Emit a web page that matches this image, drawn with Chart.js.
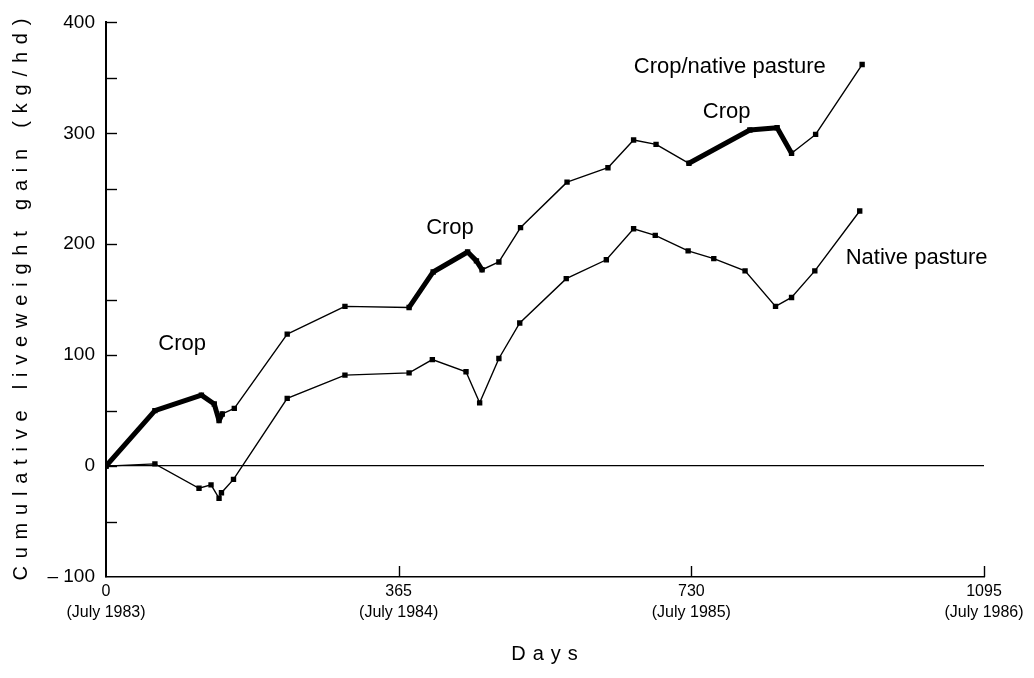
<!DOCTYPE html>
<html>
<head>
<meta charset="utf-8">
<script src="https://cdn.jsdelivr.net/npm/chart.js@4.4.1/dist/chart.umd.min.js"></script>
<style>
html,body{margin:0;padding:0;background:#fff;}
canvas{display:block;}
</style>
</head>
<body>
<canvas id="c" width="1034" height="678"></canvas>
<script>
// ---- data ----
const cropNativeDays = [0, 61, 119, 135, 141, 145, 160, 226, 298, 378, 408, 451, 462, 469, 490, 517, 575, 626, 658, 686, 727, 803, 837, 855, 885, 943];
const cropNativeGain = [0, 50, 64, 56, 41, 47, 52, 119, 144, 143, 175, 193, 185, 177, 184, 215, 256, 269, 294, 290, 273, 303, 305, 282, 299, 362];
// feed grazed on the interval starting at each point
const cropNativeFeed = ['crop','crop','crop','crop','crop','pasture','pasture','pasture','pasture','crop','crop','crop','crop','pasture','pasture','pasture','pasture','pasture','pasture','pasture','crop','crop','crop','pasture','pasture','pasture'];

const nativeDays = [0, 61, 116, 131, 141, 144, 159, 226, 298, 378, 407, 449, 466, 490, 516, 574, 624, 658, 685, 726, 758, 797, 835, 855, 884, 940];
const nativeGain = [0, 2, -20, -17, -29, -24, -12, 61, 82, 84, 96, 85, 57, 97, 129, 169, 186, 214, 208, 194, 187, 176, 144, 152, 176, 230];

const xTickValues = [0, 365, 730, 1095];
const xTickLabels = [['0','(July 1983)'], ['365','(July 1984)'], ['730','(July 1985)'], ['1095','(July 1986)']];
const yTickValues = [-100, 0, 100, 200, 300, 400];
const yTickLabels = ['\u2013 100', '0', '100', '200', '300', '400'];
const yMinorTickValues = [-50, 50, 150, 250, 350];

const xTitle = 'Days';
const yTitle = 'Cumulative liveweight gain (kg/hd)';
const noteTexts = ['Crop', 'Crop', 'Crop', 'Crop/native pasture', 'Native pasture'];
// ---------------------------------

const FONT = '"Liberation Sans", Arial, Helvetica, sans-serif';

const decor = {
  id: 'decor',
  afterDraw(chart) {
    const ctx = chart.ctx;
    const xs = chart.scales.x, ys = chart.scales.y;
    const a = chart.chartArea;
    ctx.save();
    ctx.strokeStyle = '#000';
    ctx.lineWidth = 1.4;
    // inward y ticks
    [...yTickValues, ...yMinorTickValues].forEach(v => {
      if (v === ys.min) return;
      const py = Math.round(ys.getPixelForValue(v)) + 0.5;
      ctx.beginPath();
      ctx.moveTo(a.left, py);
      ctx.lineTo(a.left + 11, py);
      ctx.stroke();
    });
    // inward x ticks
    xTickValues.forEach(v => {
      if (v === xs.min) return;
      const px = Math.round(xs.getPixelForValue(v)) + 0.5;
      ctx.beginPath();
      ctx.moveTo(px, a.bottom);
      ctx.lineTo(px, a.bottom - 11);
      ctx.stroke();
    });
    // annotations (positioned in data coordinates)
    const notePos = [[95, 110], [429, 215], [774, 319], [778, 360], [1011, 188]];
    ctx.fillStyle = '#000';
    ctx.font = '22px ' + FONT;
    ctx.textAlign = 'center';
    ctx.textBaseline = 'middle';
    noteTexts.forEach((t, i) => {
      ctx.fillText(t, xs.getPixelForValue(notePos[i][0]), ys.getPixelForValue(notePos[i][1]));
    });
    // axis titles
    ctx.font = '20px ' + FONT;
    ctx.letterSpacing = '7px';
    ctx.fillText(xTitle, (a.left + a.right) / 2 + 3, 654);
    ctx.save();
    ctx.translate(21, (a.top + a.bottom) / 2);
    ctx.rotate(-Math.PI / 2);
    ctx.letterSpacing = '7.8px';
    ctx.fillText(yTitle, 4, 0);
    ctx.restore();
    ctx.restore();
  }
};

new Chart(document.getElementById('c'), {
  type: 'line',
  data: {
    datasets: [
      {
        label: 'Crop/native pasture',
        data: cropNativeDays.map((d, i) => ({x: d, y: cropNativeGain[i]})),
        borderColor: '#000',
        backgroundColor: '#000',
        borderWidth: 1.4,
        borderCapStyle: 'round',
        borderJoinStyle: 'round',
        pointStyle: 'rect',
        pointRadius: 3.8,
        pointBorderWidth: 0,
        tension: 0,
        segment: {
          borderWidth: c => cropNativeFeed[c.p0DataIndex] === 'crop' ? 5 : 1.4
        }
      },
      {
        label: 'Native pasture',
        data: nativeDays.map((d, i) => ({x: d, y: nativeGain[i]})),
        borderColor: '#000',
        backgroundColor: '#000',
        borderWidth: 1.4,
        pointStyle: 'rect',
        pointRadius: 3.8,
        pointBorderWidth: 0,
        tension: 0
      }
    ]
  },
  options: {
    responsive: false,
    animation: false,
    layout: {padding: {top: 15, right: 50, left: 0, bottom: 0}},
    plugins: {legend: {display: false}, tooltip: {enabled: false}},
    scales: {
      x: {
        type: 'linear',
        min: 0,
        max: 1095,
        afterBuildTicks: s => { s.ticks = xTickValues.map(v => ({value: v})); },
        afterFit: s => { s.height = 101; },
        grid: {display: false, drawTicks: false},
        border: {display: true, color: '#000', width: 1.6},
        ticks: {
          color: '#000',
          padding: 4,
          maxRotation: 0,
          autoSkip: false,
          font: {family: FONT, size: 16, lineHeight: 1.3},
          callback: v => { const i = xTickValues.indexOf(v); return i >= 0 ? xTickLabels[i] : ''; }
        }
      },
      y: {
        type: 'linear',
        min: -100,
        max: 400,
        afterBuildTicks: s => { s.ticks = yTickValues.map(v => ({value: v})); },
        afterFit: s => { s.width = 106; },
        grid: {
          display: true,
          drawTicks: false,
          lineWidth: 1.3,
          color: c => (c.tick && c.tick.value === 0) ? '#000' : 'rgba(0,0,0,0)'
        },
        border: {display: true, color: '#000', width: 2},
        ticks: {
          color: '#000',
          padding: 11,
          font: {family: FONT, size: 19},
          callback: v => { const i = yTickValues.indexOf(v); return i >= 0 ? yTickLabels[i] : ''; }
        }
      }
    }
  },
  plugins: [decor]
});
</script>
</body>
</html>
